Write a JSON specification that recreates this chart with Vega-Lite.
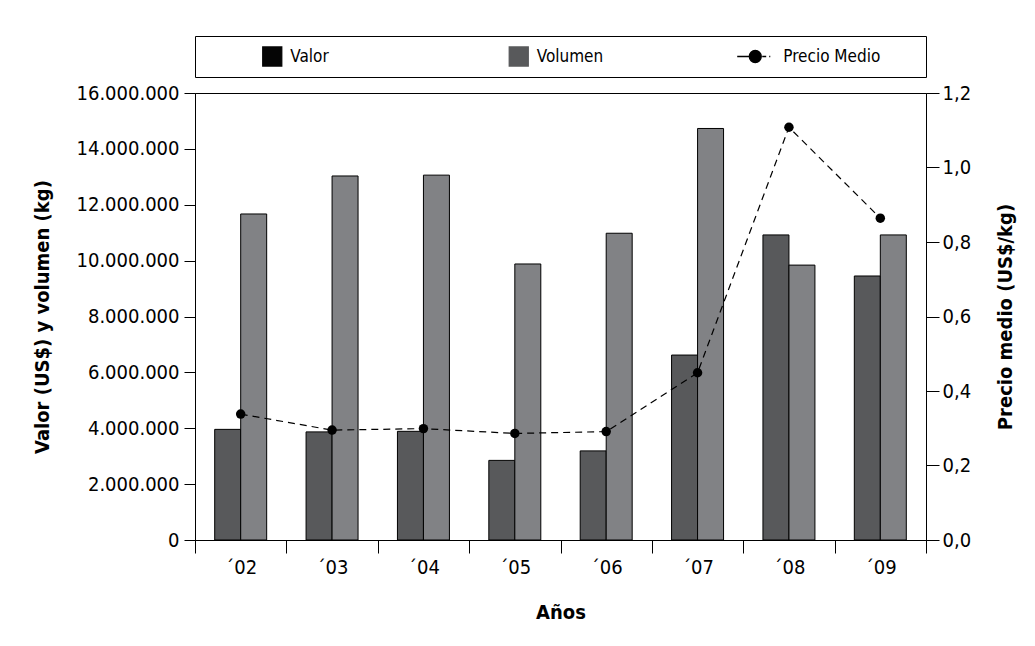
{
  "$schema": "https://vega.github.io/schema/vega-lite/v6.json",
  "padding": {"left": 31, "top": 35, "right": 5, "bottom": 5},
  "background": "white",
  "spacing": 4,
  "datasets": {
    "barras": [
      {"anio": "´02", "serie": "Valor", "monto": 3960000},
      {"anio": "´02", "serie": "Volumen", "monto": 11670000},
      {"anio": "´03", "serie": "Valor", "monto": 3870000},
      {"anio": "´03", "serie": "Volumen", "monto": 13030000},
      {"anio": "´04", "serie": "Valor", "monto": 3890000},
      {"anio": "´04", "serie": "Volumen", "monto": 13060000},
      {"anio": "´05", "serie": "Valor", "monto": 2850000},
      {"anio": "´05", "serie": "Volumen", "monto": 9880000},
      {"anio": "´06", "serie": "Valor", "monto": 3190000},
      {"anio": "´06", "serie": "Volumen", "monto": 10980000},
      {"anio": "´07", "serie": "Valor", "monto": 6620000},
      {"anio": "´07", "serie": "Volumen", "monto": 14730000},
      {"anio": "´08", "serie": "Valor", "monto": 10920000},
      {"anio": "´08", "serie": "Volumen", "monto": 9840000},
      {"anio": "´09", "serie": "Valor", "monto": 9450000},
      {"anio": "´09", "serie": "Volumen", "monto": 10920000}
    ],
    "precio": [
      {"anio": "´02", "precio": 0.338},
      {"anio": "´03", "precio": 0.295},
      {"anio": "´04", "precio": 0.299},
      {"anio": "´05", "precio": 0.286},
      {"anio": "´06", "precio": 0.291},
      {"anio": "´07", "precio": 0.449},
      {"anio": "´08", "precio": 1.108},
      {"anio": "´09", "precio": 0.864}
    ],
    "leyenda": [
      {"serie": "Valor"},
      {"serie": "Volumen"},
      {"serie": "Precio Medio"}
    ]
  },
  "vconcat": [
    {
      "width": 731,
      "height": 41,
      "data": {"name": "leyenda"},
      "encoding": {
        "x": {
          "field": "serie",
          "type": "nominal",
          "sort": null,
          "scale": {"type": "point", "domain": ["Valor", "Volumen", "Precio Medio"], "padding": 0.4828, "align": 0.3246},
          "axis": null
        }
      },
      "layer": [
        {
          "mark": {"type": "point", "filled": true, "size": 361, "strokeWidth": 1.3, "opacity": 1},
          "encoding": {
            "shape": {
              "field": "serie",
              "scale": {
                "domain": ["Valor", "Volumen", "Precio Medio"],
                "range": ["square", "square", "M-2.95,0L-1.68,0M-1.68,0A0.63,0.63,0,1,1,-0.42,0A0.63,0.63,0,1,1,-1.68,0M-0.32,0L0.1,0M0.42,0L0.53,0"]
              },
              "legend": null
            },
            "color": {
              "field": "serie",
              "scale": {"domain": ["Valor", "Volumen", "Precio Medio"], "range": ["#050505", "#58595b", "#000000"]},
              "legend": null
            },
            "stroke": {
              "field": "serie",
              "scale": {"domain": ["Valor", "Volumen", "Precio Medio"], "range": ["#050505", "#58595b", "#000000"]},
              "legend": null
            }
          }
        },
        {
          "mark": {"type": "text", "align": "left", "baseline": "middle", "dx": 18, "fontSize": 17, "color": "black"},
          "encoding": {"text": {"field": "serie"}}
        }
      ]
    },
    {
      "width": 731,
      "height": 447,
      "encoding": {
        "x": {
          "field": "anio",
          "type": "ordinal",
          "sort": null,
          "scale": {"paddingInner": 0, "paddingOuter": 0},
          "axis": {
            "title": "Años",
            "labelAngle": 0,
            "tickBand": "extent",
            "tickSize": 13,
            "labelPadding": 4,
            "titlePadding": 25
          }
        }
      },
      "layer": [
        {
          "data": {"name": "barras"},
          "mark": {"type": "bar", "stroke": "black", "strokeWidth": 1},
          "encoding": {
            "xOffset": {
              "field": "serie",
              "sort": null,
              "scale": {"paddingInner": 0, "paddingOuter": 0.758}
            },
            "y": {
              "field": "monto",
              "type": "quantitative",
              "scale": {"domain": [0, 16000000]},
              "axis": {
                "title": "Valor (US$) y volumen (kg)",
                "values": [0, 2000000, 4000000, 6000000, 8000000, 10000000, 12000000, 14000000, 16000000],
                "format": ",.0f",
                "tickSize": 11,
                "labelPadding": 5,
                "titlePadding": 24
              }
            },
            "fill": {
              "field": "serie",
              "scale": {"domain": ["Valor", "Volumen"], "range": ["#58595b", "#818285"]},
              "legend": null
            }
          }
        },
        {
          "data": {"name": "precio"},
          "encoding": {
            "y": {
              "field": "precio",
              "type": "quantitative",
              "scale": {"domain": [0, 1.2]},
              "axis": {
                "orient": "right",
                "title": "Precio medio (US$/kg)",
                "titleAngle": 270,
                "values": [0, 0.2, 0.4, 0.6, 0.8, 1.0, 1.2],
                "format": ".1f",
                "tickSize": 13,
                "labelPadding": 3,
                "titlePadding": 45
              }
            }
          },
          "layer": [
            {
              "mark": {"type": "line", "color": "black", "strokeWidth": 1.2, "strokeDash": [7, 5]}
            },
            {
              "mark": {"type": "point", "filled": true, "color": "black", "size": 90, "opacity": 1}
            }
          ]
        }
      ],
      "resolve": {"scale": {"y": "independent"}}
    }
  ],
  "config": {
    "font": "DejaVu Sans Condensed, Roboto, sans-serif",
    "view": {"stroke": "black", "strokeWidth": 1},
    "locale": {
      "number": {"decimal": ",", "thousands": ".", "grouping": [3], "currency": ["$", ""]}
    },
    "text": {"font": "DejaVu Sans Condensed, Roboto, sans-serif"},
    "axis": {
      "grid": false,
      "domainColor": "black",
      "tickColor": "black",
      "labelColor": "black",
      "titleColor": "black",
      "labelFont": "DejaVu Sans Condensed, Roboto, sans-serif",
      "titleFont": "DejaVu Sans Condensed, Roboto, sans-serif",
      "labelFontSize": 20,
      "titleFontSize": 20,
      "titleFontWeight": "bold"
    }
  }
}
